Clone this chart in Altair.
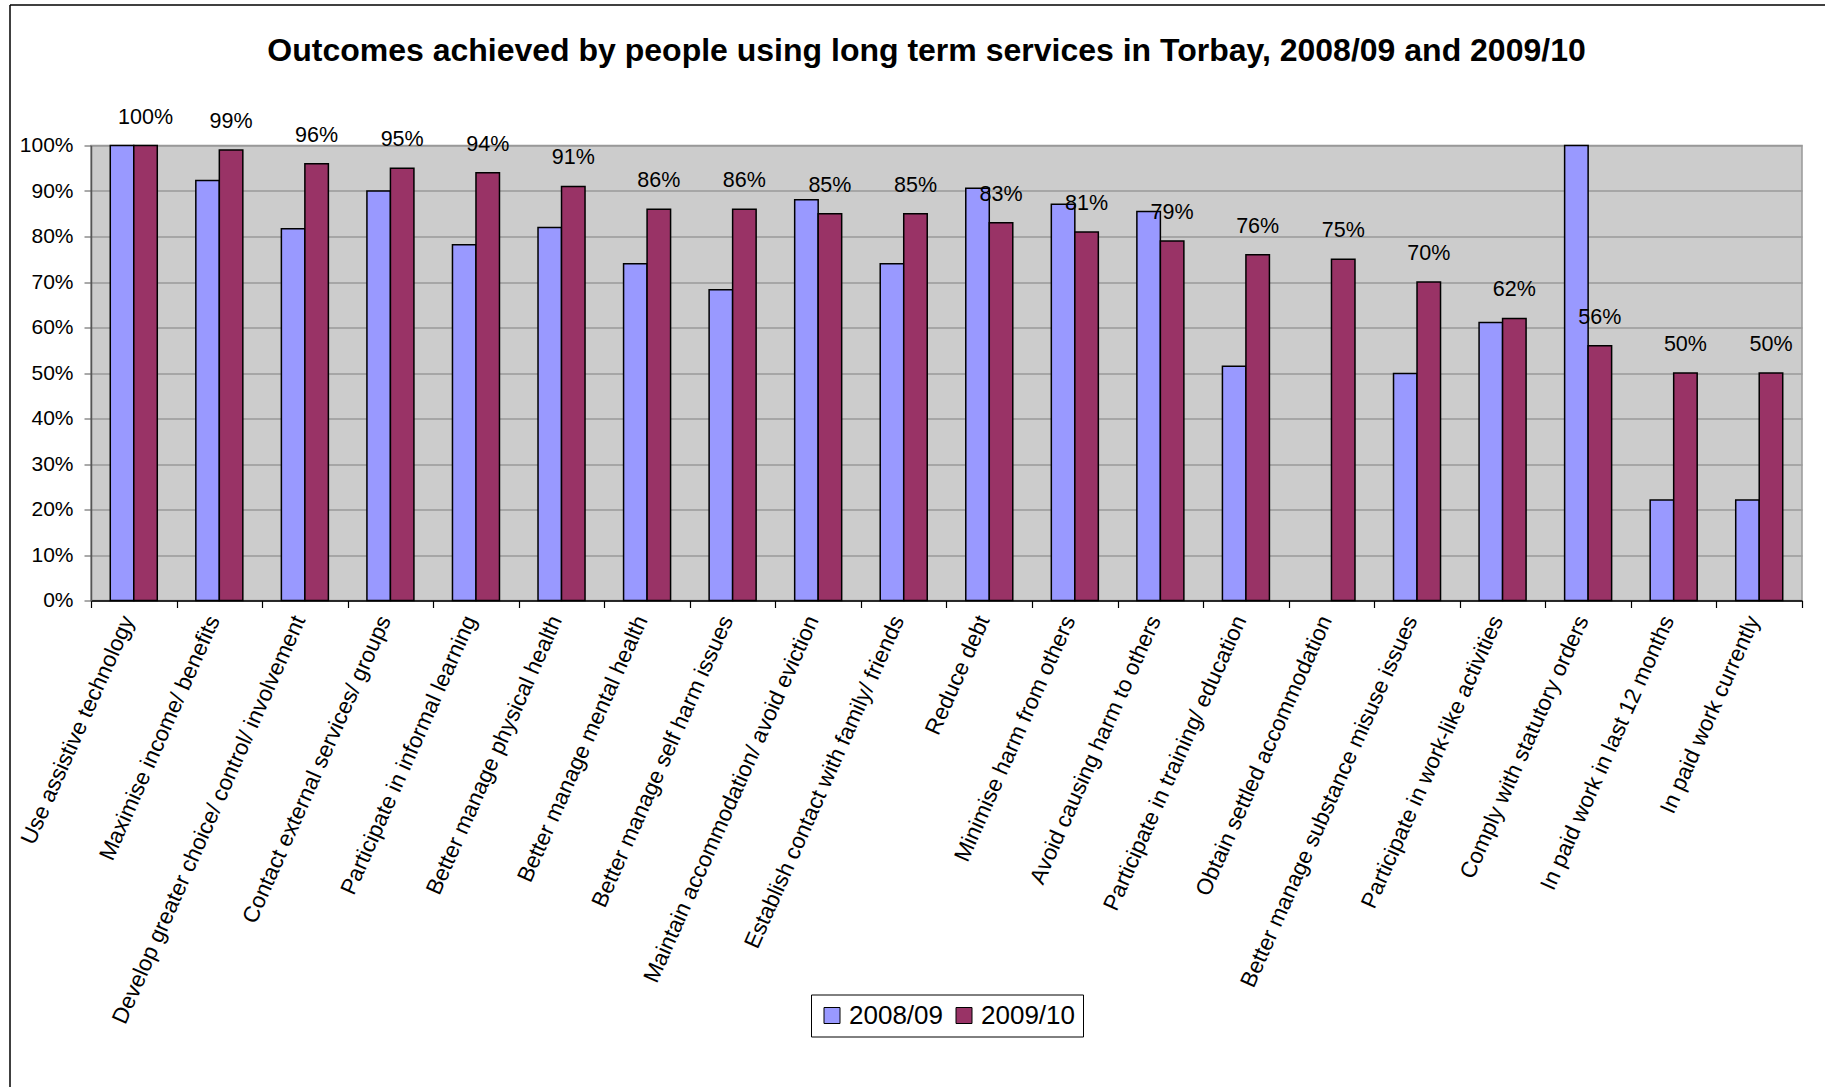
import altair as alt
import pandas as pd

# ---------------- data ----------------
categories = [
    "Use assistive technology",
    "Maximise income/ benefits",
    "Develop greater choice/ control/ involvement",
    "Contact external services/ groups",
    "Participate in informal learning",
    "Better manage physical health",
    "Better manage mental health",
    "Better manage self harm issues",
    "Maintain accommodation/ avoid eviction",
    "Establish contact with family/ friends",
    "Reduce debt",
    "Minimise harm from others",
    "Avoid causing harm to others",
    "Participate in training/ education",
    "Obtain settled accommodation",
    "Better manage substance misuse issues",
    "Participate in work-like activities",
    "Comply with statutory orders",
    "In paid work in last 12 months",
    "In paid work currently",
]
series = ["2008/09", "2009/10"]
values_2008 = [100, 92.3, 81.7, 90.0, 78.2, 82.0, 74.0, 68.3, 88.1, 74.0,
               90.6, 87.1, 85.5, 51.5, None, 49.9, 61.1, 100, 22.1, 22.1]
values_2009 = [100, 99, 96, 95, 94, 91, 86, 86, 85, 85,
               83, 81, 79, 76, 75, 70, 62, 56, 50, 50]
y_ticks = [0, 10, 20, 30, 40, 50, 60, 70, 80, 90, 100]
colors = ["#9999FF", "#993366"]
title_text = "Outcomes achieved by people using long term services in Torbay, 2008/09 and 2009/10"

rows = []
for i, cat in enumerate(categories):
    for s, vals in zip(series, [values_2008, values_2009]):
        v = vals[i]
        if v is not None:
            rows.append({"category": cat, "series": s, "value": v})
df = pd.DataFrame(rows)

FONT = "Liberation Sans"

x_enc = alt.X(
    "category:N",
    sort=categories,
    scale=alt.Scale(paddingInner=0, paddingOuter=0),
    axis=alt.Axis(
        title=None, labelAngle=294, labelAlign="right", labelBaseline="middle",
        labelFontSize=22.5, labelPadding=9, labelOffset=-6, tickSize=7, tickBand="extent",
        domainColor="#000000", tickColor="#000000", domainWidth=1.5, tickWidth=1.2,
        labelColor="#000000", labelLimit=0, grid=False, labelFont=FONT,
    ),
)
offset_scale = alt.Scale(domain=series, paddingInner=0, paddingOuter=0.82)
xoff = alt.XOffset("series:N", scale=offset_scale)
y_enc = alt.Y(
    "value:Q",
    scale=alt.Scale(domain=[0, 100]),
    axis=alt.Axis(
        title=None, values=y_ticks, labelExpr="datum.value + '%'",
        labelFontSize=21, labelPadding=11, tickSize=7, labelColor="#000000",
        domainColor="#555555", tickColor="#555555", domainWidth=1.5,
        grid=True, gridColor="#9a9a9a", gridWidth=1.5, labelFont=FONT,
    ),
)
color = alt.Color(
    "series:N",
    scale=alt.Scale(domain=series, range=colors),
    legend=alt.Legend(
        title=None, orient="none", legendX=720, legendY=849, direction="horizontal",
        fillColor="white", strokeColor="#000000", padding=8,
        symbolType="square", symbolSize=256, symbolStrokeColor="#000000",
        symbolStrokeWidth=1, symbolOpacity=1, labelFontSize=26, labelFont=FONT,
        labelColor="#000000", columnPadding=8, labelOffset=4,
    ),
)

bars = alt.Chart(df).mark_bar(stroke="#000000", strokeWidth=1.5, opacity=1).encode(
    x=x_enc, xOffset=xoff, y=y_enc, color=color
)

labels = (
    alt.Chart(df)
    .transform_filter(alt.datum.series == "2009/10")
    .transform_calculate(label="format(datum.value, 'd') + '%'")
    .mark_text(dy=-28, fontSize=21.5, baseline="middle", align="center", color="#000000", font=FONT)
    .encode(
        x=alt.X("category:N", sort=categories),
        xOffset=alt.XOffset("series:N", scale=offset_scale),
        y="value:Q",
        text="label:N",
    )
)

frame_left = alt.Chart(alt.Data(values=[{}])).mark_rule(color="#000000", strokeWidth=1.5).encode(
    x=alt.value(-81), y=alt.value(-140.5), y2=alt.value(960)
)
frame_top = alt.Chart(alt.Data(values=[{}])).mark_rule(color="#000000", strokeWidth=1.5).encode(
    x=alt.value(-81), x2=alt.value(1734), y=alt.value(-140.5)
)

chart = (
    alt.layer(frame_left, frame_top, bars, labels)
    .properties(
        width=1711,
        height=455,
        padding={"left": 91, "top": 145.5, "right": 23, "bottom": 486.5},
        autosize=alt.AutoSizeParams(type="none"),
        title=alt.Title(
            title_text, fontSize=32, fontWeight="bold", anchor="middle",
            baseline="middle", offset=-79, dx=-20, color="#000000", font=FONT,
        ),
    )
    .configure(font=FONT, background="white")
    .configure_view(fill="#CCCCCC", stroke="#999999", strokeWidth=1.5)
)

chart.save("out.html", embed_options={"renderer": "svg", "actions": False})
